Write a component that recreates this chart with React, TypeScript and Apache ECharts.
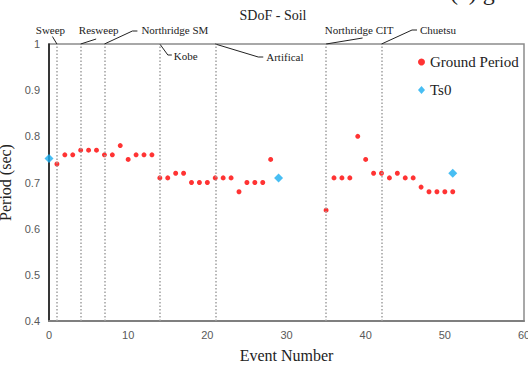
import React, { useEffect, useRef } from "react";
import * as echarts from "echarts";

const groundEvents = [1, 2, 3, 4, 5, 6, 7, 8, 9, 10, 11, 12, 13, 14, 15, 16, 17, 18, 19, 20, 21, 22, 23, 24, 25, 26, 27, 28, 35, 36, 37, 38, 39, 40, 41, 42, 43, 44, 45, 46, 47, 48, 49, 50, 51];
const groundPeriod = [0.74, 0.76, 0.76, 0.77, 0.77, 0.77, 0.76, 0.76, 0.78, 0.75, 0.76, 0.76, 0.76, 0.71, 0.71, 0.72, 0.72, 0.70, 0.70, 0.70, 0.71, 0.71, 0.71, 0.68, 0.70, 0.70, 0.70, 0.75, 0.64, 0.71, 0.71, 0.71, 0.80, 0.75, 0.72, 0.72, 0.71, 0.72, 0.71, 0.71, 0.69, 0.68, 0.68, 0.68, 0.68];
const ts0Events = [0, 29, 51];
const ts0Values = [0.752, 0.71, 0.72];

const eventLines = [1, 4, 7, 14, 21, 35, 42];
const eventNames = ["Sweep", "Resweep", "Northridge SM", "Kobe", "Artifical", "Northridge CIT", "Chuetsu"];

const xTicks = { min: 0, max: 60, interval: 10 };
const yTicks = { min: 0.4, max: 1, interval: 0.1 };

const SERIF = '"Liberation Serif", "Times New Roman", serif';
const SANS = '"Liberation Sans", Arial, sans-serif';

export default function App() {
  const ref = useRef<HTMLDivElement>(null);
  useEffect(() => {
    if (!ref.current) return;
    const chart = echarts.init(ref.current, null, { renderer: "svg" });
    chart.setOption({
      animation: false,
      grid: {
        left: 49, right: 4, top: 44, bottom: 48,
        containLabel: false, outerBoundsMode: "none",
        show: true, borderColor: "#8c8c8c", borderWidth: 1.5,
      },
      legend: {
        orient: "vertical",
        left: 413,
        top: 49,
        itemWidth: 7,
        itemHeight: 8,
        itemGap: 12,
        textStyle: { fontFamily: SERIF, fontSize: 15, color: "#222", lineHeight: 16 },
        data: [
          { name: "Ground Period", icon: "circle" },
          { name: "Ts0", icon: "diamond" },
        ],
      },
      xAxis: {
        type: "value",
        min: xTicks.min,
        max: xTicks.max,
        interval: xTicks.interval,
        name: "Event Number",
        nameLocation: "middle",
        nameGap: 26,
        nameTextStyle: { fontFamily: SERIF, fontSize: 16, color: "#222" },
        axisLine: { show: true, lineStyle: { color: "#7f7f7f", width: 2 } },
        axisTick: { show: false },
        splitLine: { show: false },
        axisLabel: { fontFamily: SANS, fontSize: 11, color: "#595959", margin: 8 },
      },
      yAxis: {
        type: "value",
        min: yTicks.min,
        max: yTicks.max,
        interval: yTicks.interval,
        name: "Period (sec)",
        nameLocation: "middle",
        nameGap: 24,
        nameTextStyle: { fontFamily: SERIF, fontSize: 16, color: "#222" },
        axisLine: { show: true, lineStyle: { color: "#111", width: 1.5 } },
        axisTick: { show: false },
        splitLine: { show: false },
        axisLabel: { fontFamily: SANS, fontSize: 11, color: "#595959", margin: 9 },
      },
      series: [
        {
          name: "Ground Period",
          type: "scatter",
          symbol: "circle",
          symbolSize: 5,
          itemStyle: { color: "#ff0000" },
          data: groundEvents.map((e, i) => [e, groundPeriod[i]]),
          z: 3,
          markLine: {
            silent: true,
            symbol: "none",
            label: { show: false },
            lineStyle: { color: "#a0a0a0", type: [1.5, 2], width: 1.5 },
            data: eventLines.map((x) => ({ xAxis: x })),
          },
        },
        {
          name: "Ts0",
          type: "scatter",
          symbol: "diamond",
          symbolSize: 9,
          itemStyle: { color: "#1aaef0" },
          data: ts0Events.map((e, i) => [e, ts0Values[i]]),
          z: 4,
        },
      ],
    });

    const top = (x: number) => chart.convertToPixel({ gridIndex: 0 }, [x, yTicks.max]) as number[];
    const lineStyle = { stroke: "#222", lineWidth: 1 };
    const txt = (text: string, x: number, y: number, align: string) => ({
      type: "text",
      x,
      y,
      style: { text, fontFamily: SERIF, fontSize: 11, fill: "#222", align, verticalAlign: "middle" },
    });
    const [x0] = top(eventLines[0]);
    const [x1] = top(eventLines[1]);
    const [x2] = top(eventLines[2]);
    const [x3] = top(eventLines[3]);
    const [x4] = top(eventLines[4]);
    const [x5] = top(eventLines[5]);
    const [x6, yTop] = top(eventLines[6]);
    const graphic: any[] = [
      { type: "text", x: 273, y: 15, style: { text: "SDoF - Soil", fontFamily: SERIF, fontSize: 14, fill: "#222", align: "center", verticalAlign: "middle" } },
      { type: "text", x: 450, y: -8, style: { text: "(c) g", fontFamily: SERIF, fontSize: 24, fill: "#222", align: "left", verticalAlign: "middle" } },
      { type: "polyline", shape: { points: [[x0, yTop], [x0 - 4.5, yTop - 7.5]] }, style: lineStyle },
      txt(eventNames[0], x0 - 6.5, 30, "center"),
      { type: "polyline", shape: { points: [[x1, yTop], [x1 + 15.5, yTop - 5]] }, style: lineStyle },
      txt(eventNames[1], x1 + 18, 30, "center"),
      { type: "polyline", shape: { points: [[x2, yTop], [x2 + 28, yTop - 13], [x2 + 33, yTop - 13]] }, style: lineStyle },
      txt(eventNames[2], x2 + 37, 30, "left"),
      { type: "polyline", shape: { points: [[x3, yTop], [x3 + 8, yTop + 11], [x3 + 12, yTop + 11]] }, style: lineStyle },
      txt(eventNames[3], x3 + 14, yTop + 12, "left"),
      { type: "polyline", shape: { points: [[x4, yTop], [x4 + 43, yTop + 13], [x4 + 48, yTop + 13]] }, style: lineStyle },
      txt(eventNames[4], x4 + 51, yTop + 13, "left"),
      { type: "polyline", shape: { points: [[x5, yTop], [x5 + 36.5, yTop - 6]] }, style: lineStyle },
      txt(eventNames[5], x5 + 33, 30, "center"),
      { type: "polyline", shape: { points: [[x6, yTop], [x6 + 30.5, yTop - 14], [x6 + 35.5, yTop - 14]] }, style: lineStyle },
      txt(eventNames[6], x6 + 38.5, 29.5, "left"),
    ];
    chart.setOption({ graphic });
    return () => chart.dispose();
  }, []);
  return <div ref={ref} style={{ width: 528, height: 369, position: "absolute", left: 0, top: 0 }} />;
}
